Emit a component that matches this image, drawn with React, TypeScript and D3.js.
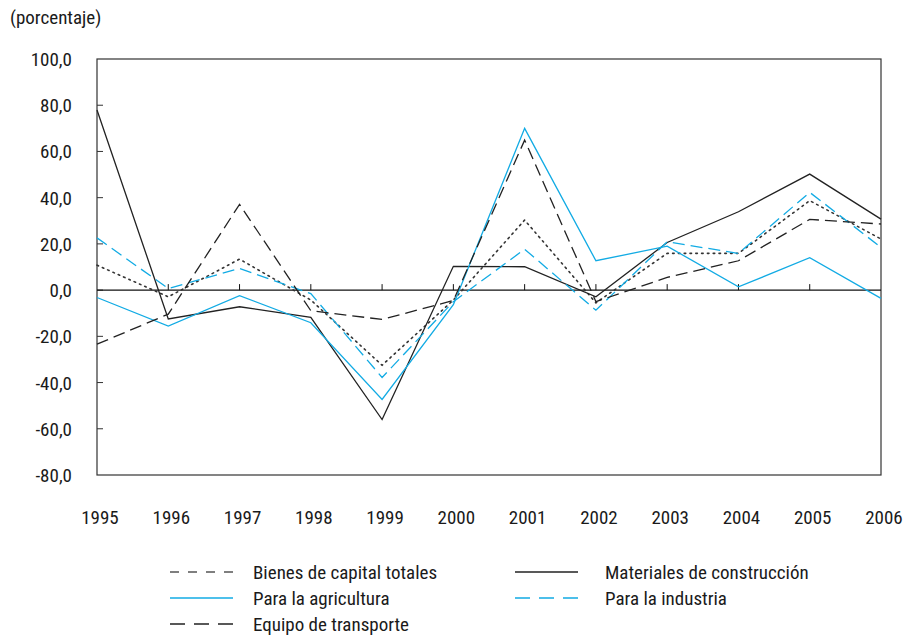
import React, { useEffect, useRef } from "react";
import * as d3 from "d3";

// ---- data ----
const years = [1995, 1996, 1997, 1998, 1999, 2000, 2001, 2002, 2003, 2004, 2005, 2006];
const yTicks = [100, 80, 60, 40, 20, 0, -20, -40, -60, -80];

const bienesCapitalTotales = [10.8, -2.9, 13.4, -4.3, -32.5, -4.3, 30.3, -5.5, 15.9, 15.9, 38.7, 22.1];
const materialesConstruccion = [77.9, -12.5, -7.2, -11.8, -56.0, 10.3, 10.1, -2.9, 20.6, 33.9, 50.2, 30.7];
const paraAgricultura = [-3.2, -15.6, -2.4, -14.1, -47.3, -6.3, 70.0, 12.7, 19.0, 1.4, 14.0, -3.6];
const paraIndustria = [22.6, 0.7, 9.4, -1.5, -37.8, -5.0, 17.7, -8.7, 20.9, 15.9, 42.3, 18.5];
const equipoTransporte = [-23.4, -10.4, 37.1, -8.9, -12.7, -4.5, 64.9, -5.0, 5.5, 12.7, 30.6, 28.6];

const BLUE = "#12abe4";
const FONT = "'Liberation Sans Narrow', 'Roboto Condensed', 'Arial Narrow', sans-serif";

const series = [
  { name: "Bienes de capital totales", values: bienesCapitalTotales, color: "#333", dash: "1.6 4.2", legendDash: "9 9", width: 1.6 },
  { name: "Materiales de construcción", values: materialesConstruccion, color: "#222", dash: null, legendDash: null, width: 1.3 },
  { name: "Para la agricultura", values: paraAgricultura, color: BLUE, dash: null, legendDash: null, width: 1.3 },
  { name: "Para la industria", values: paraIndustria, color: BLUE, dash: "12 6", legendDash: "15 9", width: 1.3 },
  { name: "Equipo de transporte", values: equipoTransporte, color: "#222", dash: "12 6", legendDash: "15 9", width: 1.3 },
];

const W = 911;
const H = 638;
const margin = { top: 59, right: 30, bottom: 163, left: 97 };

export default function App() {
  const ref = useRef<SVGSVGElement>(null);

  useEffect(() => {
    const svg = d3.select(ref.current);
    svg.selectAll("*").remove();

    const x = d3.scaleLinear()
      .domain([years[0], years[years.length - 1]])
      .range([margin.left, W - margin.right]);
    const y = d3.scaleLinear()
      .domain([-80, 100])
      .range([H - margin.bottom, margin.top]);

    const g = svg.append("g").attr("font-family", FONT).attr("fill", "#1a1a1a");

    // unit label
    g.append("text")
      .attr("x", 10)
      .attr("y", 24)
      .attr("font-size", 19)
      .text("(porcentaje)");

    // frame
    g.append("rect")
      .attr("x", margin.left)
      .attr("y", margin.top)
      .attr("width", W - margin.right - margin.left)
      .attr("height", H - margin.bottom - margin.top)
      .attr("fill", "none")
      .attr("stroke", "#333")
      .attr("stroke-width", 1.2);

    // y ticks + labels
    yTicks.forEach(t => {
      if (t !== 100 && t !== -80) {
        g.append("line")
          .attr("x1", margin.left)
          .attr("x2", margin.left + 6)
          .attr("y1", y(t))
          .attr("y2", y(t))
          .attr("stroke", "#333");
      }
      g.append("text")
        .attr("x", 72)
        .attr("y", y(t) + 7)
        .attr("text-anchor", "end")
        .attr("font-size", 19)
        .text(d3.format(".1f")(t).replace(".", ",").replace("−", "-"));
    });

    // zero line + x ticks
    g.append("line")
      .attr("x1", margin.left)
      .attr("x2", W - margin.right)
      .attr("y1", y(0))
      .attr("y2", y(0))
      .attr("stroke", "#111")
      .attr("stroke-width", 1.2);

    years.forEach((yr, i) => {
      if (i > 0 && i < years.length - 1) {
        g.append("line")
          .attr("x1", x(yr))
          .attr("x2", x(yr))
          .attr("y1", y(0))
          .attr("y2", y(0) - 6)
          .attr("stroke", "#111");
      }
      g.append("text")
        .attr("x", x(yr) + 3)
        .attr("y", 524)
        .attr("text-anchor", "middle")
        .attr("font-size", 19)
        .text(yr);
    });

    // lines
    const line = d3.line<number>()
      .x((_, i) => x(years[i]))
      .y(d => y(d));

    series.forEach(s => {
      g.append("path")
        .datum(s.values)
        .attr("d", line)
        .attr("fill", "none")
        .attr("stroke", s.color)
        .attr("stroke-width", s.width)
        .attr("stroke-dasharray", s.dash)
        .attr("stroke-linecap", s.dash && s.dash.startsWith("1.6") ? "round" : "butt")
        .attr("stroke-linejoin", "miter");
    });

    // legend
    const legendPos = [
      { s: 0, x: 170, y: 572 },
      { s: 1, x: 515, y: 572 },
      { s: 2, x: 170, y: 598 },
      { s: 3, x: 515, y: 598 },
      { s: 4, x: 170, y: 624 },
    ];
    legendPos.forEach(p => {
      const s = series[p.s];
      g.append("line")
        .attr("x1", p.x)
        .attr("x2", p.x + 63)
        .attr("y1", p.y)
        .attr("y2", p.y)
        .attr("stroke", s.color === "#333" ? "#555" : s.color)
        .attr("stroke-width", 1.3)
        .attr("stroke-dasharray", s.legendDash);
      g.append("text")
        .attr("x", p.x < 300 ? 253 : 605)
        .attr("y", p.y + 7)
        .attr("font-size", 19)
        .text(s.name);
    });
  }, []);

  return (
    <svg ref={ref} width={W} height={H} style={{ display: "block", position: "absolute", left: 0, top: 0, background: "#fff" }} />
  );
}
